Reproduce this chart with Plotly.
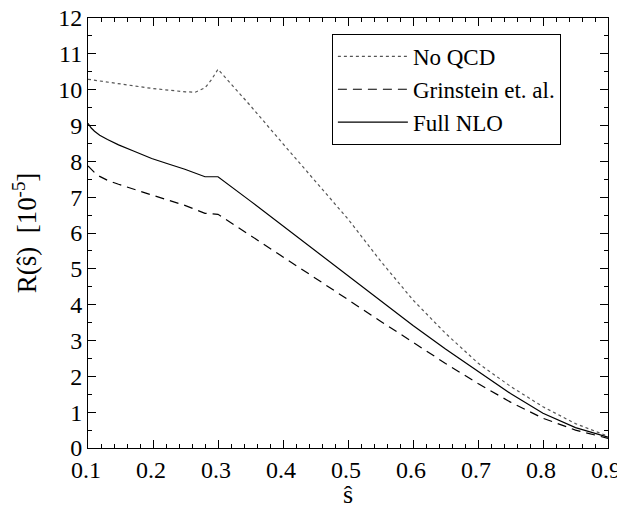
import plotly.graph_objects as go

s_noqcd = [0.10, 0.15, 0.20, 0.25, 0.265, 0.28, 0.29, 0.30, 0.35, 0.40, 0.45, 0.50, 0.55, 0.60, 0.65, 0.70, 0.75, 0.80, 0.85, 0.90]
r_noqcd = [10.29, 10.15, 10.03, 9.94, 9.93, 10.05, 10.28, 10.57, 9.55, 8.49, 7.44, 6.39, 5.22, 4.13, 3.20, 2.37, 1.72, 1.15, 0.68, 0.33]

s_grin = [0.10, 0.105, 0.11, 0.118, 0.13, 0.147, 0.17, 0.198, 0.225, 0.249, 0.28, 0.30, 0.35, 0.40, 0.45, 0.50, 0.55, 0.60, 0.65, 0.70, 0.75, 0.80, 0.85, 0.90]
r_grin = [7.87, 7.77, 7.69, 7.58, 7.47, 7.36, 7.22, 7.06, 6.91, 6.77, 6.55, 6.52, 5.93, 5.34, 4.74, 4.14, 3.54, 2.95, 2.36, 1.80, 1.28, 0.83, 0.50, 0.27]

s_full = [0.10, 0.105, 0.11, 0.118, 0.13, 0.147, 0.17, 0.198, 0.225, 0.249, 0.28, 0.30, 0.35, 0.40, 0.45, 0.50, 0.55, 0.60, 0.65, 0.70, 0.75, 0.80, 0.85, 0.90]
r_full = [9.06, 8.93, 8.84, 8.73, 8.61, 8.46, 8.29, 8.08, 7.92, 7.78, 7.57, 7.57, 6.89, 6.20, 5.51, 4.82, 4.12, 3.42, 2.76, 2.13, 1.52, 0.97, 0.57, 0.30]

x_ticks = [0.1, 0.2, 0.3, 0.4, 0.5, 0.6, 0.7, 0.8, 0.9]
y_ticks = list(range(0, 13))

font = "Liberation Serif"

fig = go.Figure()
fig.add_trace(go.Scatter(x=s_noqcd, y=r_noqcd, mode="lines", name="No QCD",
                         line=dict(color="#555", width=1.2, dash="dot")))
fig.add_trace(go.Scatter(x=s_grin, y=r_grin, mode="lines", name="Grinstein et. al.",
                         line=dict(color="black", width=1.2, dash="9px,6px")))
fig.add_trace(go.Scatter(x=s_full, y=r_full, mode="lines", name="Full NLO",
                         line=dict(color="black", width=1.2)))

axis_common = dict(showgrid=False, zeroline=False, showline=True, linecolor="black", linewidth=1,
                   mirror="allticks", ticks="inside", ticklen=8, tickcolor="black", automargin=False,
                   ticklabeloverflow="allow",
                   tickfont=dict(family=font, size=24, color="black"))

fig.update_xaxes(range=[0.1, 0.9], tickvals=x_ticks, ticktext=[f"{v:.1f}" for v in x_ticks],
                 ticklabelshift=-2,
                 minor=dict(dtick=0.02, ticks="inside", ticklen=4, tickcolor="black"),
                 title=dict(text="ŝ", font=dict(family=font, size=26, color="black"), standoff=6),
                 **axis_common)
fig.update_yaxes(range=[0, 12], tickvals=y_ticks,
                 minor=dict(dtick=0.5, ticks="inside", ticklen=4, tickcolor="black"),
                 title=dict(text="R(ŝ)  [10<sup>-5</sup>]", font=dict(family=font, size=27, color="black"), standoff=22),
                 **axis_common)

fig.update_layout(
    width=609, height=501,
    margin=dict(l=80, r=9, t=10, b=61),
    paper_bgcolor="white", plot_bgcolor="white",
    font=dict(family=font, color="black"),
    showlegend=True,
    legend=dict(x=0.469, y=0.963, xanchor="left", yanchor="top",
                bgcolor="white", bordercolor="black", borderwidth=1,
                font=dict(family=font, size=23, color="black"),
                tracegroupgap=0, itemwidth=70),
)

fig.write_html("out.html")
